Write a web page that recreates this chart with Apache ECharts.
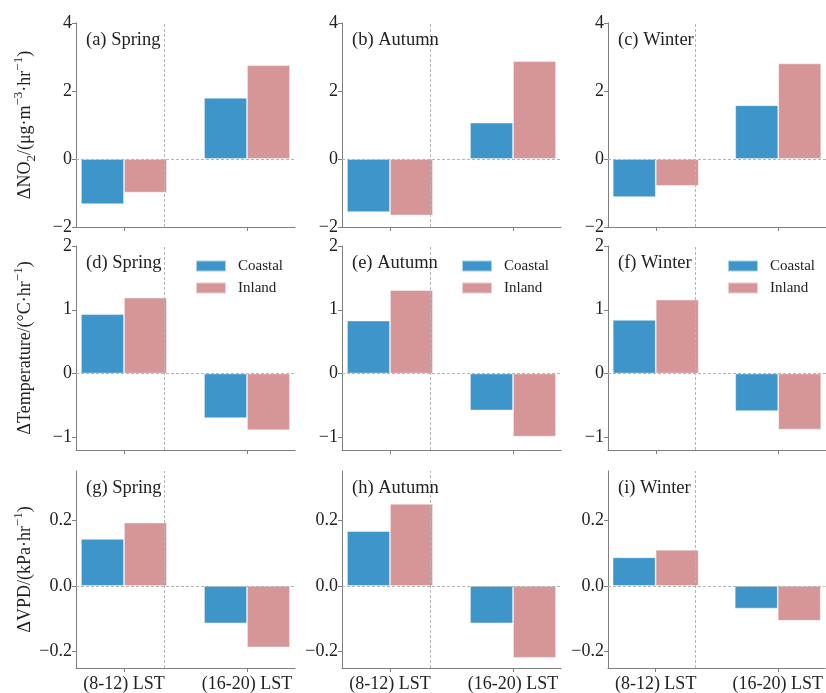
<!DOCTYPE html>
<html>
<head>
<meta charset="utf-8">
<script src="https://cdn.jsdelivr.net/npm/echarts@6/dist/echarts.min.js"></script>
<style>
html,body{margin:0;padding:0;background:#fff;}
#chart{width:826px;height:693px;}
</style>
</head>
<body>
<div id="chart"></div>
<script>
// ---- data ----
const categories = ['(8-12) LST', '(16-20) LST'];
const seriesNames = ['Coastal', 'Inland'];
const panelTitles = ['(a) Spring', '(b) Autumn', '(c) Winter',
                     '(d) Spring', '(e) Autumn', '(f) Winter',
                     '(g) Spring', '(h) Autumn', '(i) Winter'];
// NO2 row
const no2Coastal = [[-1.33, 1.80], [-1.56, 1.07], [-1.12, 1.58]];
const no2Inland  = [[-0.99, 2.76], [-1.66, 2.88], [-0.79, 2.81]];
// Temperature row
const tempCoastal = [[0.93, -0.70], [0.83, -0.58], [0.84, -0.59]];
const tempInland  = [[1.19, -0.89], [1.31, -0.99], [1.16, -0.88]];
// VPD row
const vpdCoastal = [[0.143, -0.114], [0.167, -0.114], [0.087, -0.069]];
const vpdInland  = [[0.193, -0.187], [0.250, -0.219], [0.110, -0.106]];
// y-axis ranges & tick labels
const yMin = [-2, -1.2, -0.25];
const yMax = [4, 2, 0.35];
const yTicks = [[-2, 0, 2, 4], [-1, 0, 1, 2], [-0.2, 0.0, 0.2]];
const yDecimals = [0, 0, 1];

const FONT = '"Liberation Serif", "DejaVu Serif", serif';
const BLUE = '#3d95c9';
const PINK = '#d69597';
const AXIS = '#7f7f7f';

const yNames = [
  '{n|ΔNO}{sub|2}{n|/(μg·m}{sup|−3}{n|·hr}{sup|−1}{n|)}',
  '{n|ΔTemperature/(°C·hr}{sup|−1}{n|)}',
  '{n|ΔVPD/(kPa·hr}{sup|−1}{n|)}'
];
const rows = [[no2Coastal, no2Inland], [tempCoastal, tempInland], [vpdCoastal, vpdInland]];

const gridLefts = [76, 342, 608];
const gridTops = [23, 246, 471];
const GW = 219, GH = 204;

const grids = [], xAxes = [], yAxes = [], series = [], titles = [], legends = [];

function fmt(v, d) {
  return v.toFixed(d).replace('-', '−');
}

for (let r = 0; r < 3; r++) {
  for (let c = 0; c < 3; c++) {
    const idx = r * 3 + c;
    grids.push({left: gridLefts[c], top: gridTops[r], width: GW, height: GH, containLabel: false});
    xAxes.push({
      type: 'value', gridIndex: idx, min: -0.39, max: 1.39,
      axisLine: {show: true, onZero: false, lineStyle: {color: AXIS, width: 1}},
      axisTick: {show: true, customValues: [0, 1], length: 4, lineStyle: {color: AXIS}},
      axisLabel: {
        show: r === 2, customValues: [0, 1], margin: 7,
        formatter: v => categories[Math.round(v)],
        fontFamily: FONT, fontSize: 18, color: '#222'
      },
      splitLine: {show: false}
    });
    const d = yDecimals[r];
    yAxes.push({
      type: 'value', gridIndex: idx, min: yMin[r], max: yMax[r],
      axisLine: {show: true, onZero: false, lineStyle: {color: AXIS, width: 1}},
      axisTick: {show: true, customValues: yTicks[r], length: 4, lineStyle: {color: AXIS}},
      axisLabel: {
        customValues: yTicks[r], margin: 4,
        formatter: v => fmt(v, d),
        fontFamily: FONT, fontSize: 18, color: '#222'
      },
      splitLine: {show: false},
      name: c === 0 ? yNames[r] : '',
      nameLocation: 'middle', nameRotate: 90, nameGap: 38,
      nameTextStyle: {
        fontFamily: FONT, fontSize: 18, color: '#222',
        rich: {
          n: {fontFamily: FONT, fontSize: 18, color: '#222', lineHeight: 26},
          sup: {fontFamily: FONT, fontSize: 13, color: '#222', lineHeight: 12, verticalAlign: 'top'},
          sub: {fontFamily: FONT, fontSize: 13, color: '#222', lineHeight: 12, verticalAlign: 'bottom'}
        }
      }
    });
    const [coastal, inland] = rows[r];
    [coastal[c], inland[c]].forEach((vals, s) => {
      const ser = {
        type: 'bar', name: seriesNames[s], xAxisIndex: idx, yAxisIndex: idx,
        data: vals.map((v, i) => [i, v]),
        barWidth: 43, barGap: '0%',
        itemStyle: {color: s === 0 ? BLUE : PINK, borderColor: 'rgba(255,255,255,0.55)', borderWidth: 0.8},
        emphasis: {disabled: true},
        animation: false
      };
      if (s === 0) {
        ser.markLine = {
          silent: true, symbol: 'none', label: {show: false}, animation: false,
          lineStyle: {type: [3, 2], color: '#b5b5b5', width: 1},
          data: [{yAxis: 0}, {xAxis: 0.5}]
        };
      }
      series.push(ser);
    });
    titles.push({
      text: panelTitles[idx], left: gridLefts[c] + 10, top: gridTops[r] + 8,
      padding: 0,
      textStyle: {fontFamily: FONT, fontSize: 18.5, fontWeight: 'normal', color: '#222'}
    });
    if (r === 1) {
      legends.push({
        data: seriesNames, orient: 'vertical',
        left: gridLefts[c] + 119, top: gridTops[r] + 12,
        padding: 0,
        itemWidth: 30, itemHeight: 11, itemGap: 6,
        icon: 'rect',
        textStyle: {fontFamily: FONT, fontSize: 15, color: '#222', lineHeight: 16, padding: [0, 0, 0, 7]},
        selectedMode: false
      });
    }
  }
}

const chart = echarts.init(document.getElementById('chart'), null, {renderer: 'canvas'});
chart.setOption({
  animation: false,
  backgroundColor: '#fff',
  title: titles,
  legend: legends,
  grid: grids,
  xAxis: xAxes,
  yAxis: yAxes,
  series: series
});
</script>
</body>
</html>
